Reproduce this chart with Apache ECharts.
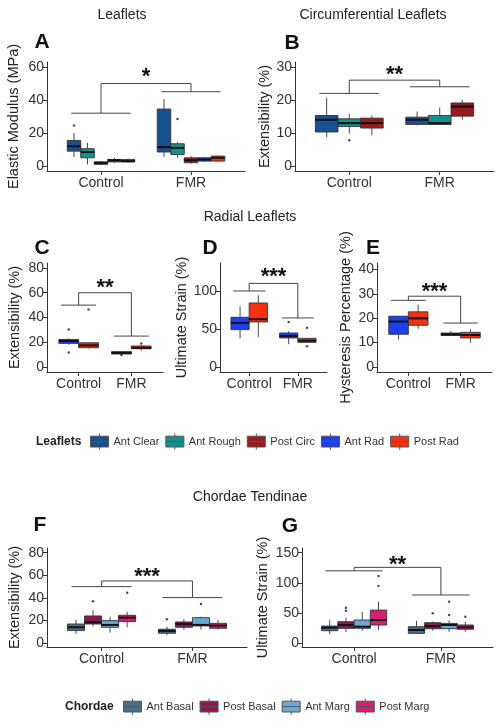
<!DOCTYPE html>
<html><head><meta charset="utf-8">
<script src="https://cdn.jsdelivr.net/npm/echarts@6/dist/echarts.min.js"></script>
<style>html,body{margin:0;padding:0;background:#fff}#c{width:503px;height:726px}</style>
</head><body><div id="c"></div>
<script>
// ---------- DATA ----------
const categories = ['Control', 'FMR'];
const leafletNames = ['Ant Clear', 'Ant Rough', 'Post Circ', 'Ant Rad', 'Post Rad'];
const chordaeNames = ['Ant Basal', 'Post Basal', 'Ant Marg', 'Post Marg'];

// box stats per category: [lower whisker, Q1, median, Q3, upper whisker]
// Panel A - Elastic Modulus (MPa)
const A_antClear = [[5.5, 9, 12, 15.5, 20], [5.5, 8.5, 11.5, 34.5, 40.5]];
const A_antRough = [[1, 5, 8.5, 10.5, 14], [5, 7, 11, 13.5, 14.5]];
const A_postCirc = [[0.5, 1, 2, 2.5, 3], [1.5, 2, 3.5, 5, 6]];
const A_antRad   = [[2, 2.5, 3.5, 4, 5], [2.5, 3, 4, 5, 5.5]];
const A_postRad  = [[2, 2.5, 3, 4, 4.5], [2.5, 3, 5, 6, 6.5]];
const A_outliers = [[0, 'Ant Clear', 24.5], [1, 'Ant Rough', 28.5]];
const A_ticks = [0, 20, 40, 60];
const A_bracket = [32, 45, 50, 57]; // control line, FMR line, top, star
// Panel B - Circumferential extensibility (%)
const B_antClear = [[8.8, 10.3, 14, 15.3, 20.7], [12.3, 12.6, 14, 14.8, 16.5]];
const B_antRough = [[9.8, 12, 13, 14.3, 15.8], [12.5, 12.6, 13, 15.3, 17.7]];
const B_postCirc = [[9.3, 11.5, 13, 14.5, 15.3], [14, 15.1, 18, 19.1, 20]];
const B_outliers = [[0, 'Ant Rough', 7.8]];
const B_ticks = [0, 10, 20, 30];
const B_bracket = [22, 24, 26, 29];
// Panel C - Radial extensibility (%)
const C_antRad  = [[18, 19.1, 21, 22.3, 23], [10.2, 10.5, 11.5, 12.4, 12.6]];
const C_postRad = [[15, 15.6, 17.5, 19.6, 20], [13, 14.8, 15.5, 17, 17.5]];
const C_outliers = [[0, 'Ant Rad', 30.4], [0, 'Ant Rad', 11.8], [0, 'Post Rad', 46.5], [1, 'Ant Rad', 9.7], [1, 'Post Rad', 19.1]];
const C_ticks = [0, 20, 40, 60, 80];
const C_bracket = [50, 25, 60, 68];
// Panel D - Ultimate Strain (%)
const D_antRad  = [[37.7, 49.1, 58, 65.4, 80], [30, 38.2, 40.8, 44.7, 47]];
const D_postRad = [[39.5, 59.2, 62.8, 84.2, 94.3], [32.4, 32.4, 34.6, 37.7, 38]];
const D_outliers = [[1, 'Ant Rad', 59.2], [1, 'Post Rad', 51.7], [1, 'Post Rad', 27.3]];
const D_ticks = [0, 50, 100];
const D_bracket = [100, 64.5, 110, 125];
// Panel E - Hysteresis Percentage (%)
const E_antRad  = [[11.2, 13.4, 18.6, 20.8, 20.8], [12.9, 12.9, 13.4, 13.9, 14.8]];
const E_postRad = [[15.7, 17.1, 19.9, 22.6, 25.6], [9.9, 11.9, 13.1, 14.2, 15.5]];
const E_outliers = [];
const E_ticks = [0, 10, 20, 30, 40];
const E_bracket = [27.3, 18, 29, 32.6];
// Panel F - Chordae extensibility (%)
const F_antBasal  = [[8.2, 11.2, 14.1, 17, 20.6], [7, 8.8, 10.9, 12.4, 14.7]];
const F_postBasal = [[14.7, 17, 18.5, 24.1, 29.4], [12, 14.1, 17, 18.8, 21.2]];
const F_antMarg   = [[9.4, 14.1, 16.2, 20, 23.5], [12, 15.3, 16.2, 22.6, 23.5]];
const F_postMarg  = [[14, 19.1, 22.6, 24.7, 27.9], [12, 13.2, 15.6, 17.6, 20.6]];
const F_outliers = [[0, 'Post Basal', 37], [0, 'Post Marg', 44.7], [1, 'Ant Basal', 21.2], [1, 'Ant Marg', 34.7]];
const F_ticks = [0, 20, 40, 60, 80];
const F_bracket = [50, 40.3, 55, 63];
// Panel G - Chordae ultimate strain (%)
const G_antBasal  = [[15.4, 20.9, 25.9, 28.6, 38.6], [15.4, 16.5, 22, 27.5, 37.4]];
const G_postBasal = [[19, 24.8, 30.3, 35.8, 42.4], [21, 24.2, 28.6, 34.1, 36]];
const G_antMarg   = [[20.9, 24.8, 27.5, 38.6, 52.3], [19, 24.2, 30.3, 33, 38]];
const G_postMarg  = [[22, 30.3, 38.6, 55, 68.9], [19, 23.2, 26.5, 30.3, 35.8]];
const G_outliers = [[0, 'Post Basal', 59], [0, 'Post Basal', 54], [0, 'Post Marg', 95], [0, 'Post Marg', 111.5], [1, 'Post Basal', 49.7], [1, 'Ant Marg', 69], [1, 'Ant Marg', 46.8], [1, 'Post Marg', 44]];
const G_ticks = [0, 50, 100, 150];
const G_bracket = [120, 80, 125.8, 138];

// ---------- STYLE / LAYOUT ----------
const FONT = "'Liberation Sans', Arial, Helvetica, sans-serif";
const colors = {
  'Ant Clear': '#17508f', 'Ant Rough': '#16908e', 'Post Circ': '#9a1b1f',
  'Ant Rad': '#1c3ff0', 'Post Rad': '#f5300f',
  'Ant Basal': '#466f8e', 'Post Basal': '#8e1651', 'Ant Marg': '#6aa9d5', 'Post Marg': '#d81d72'
};
const panels = [
  {key: 'A', groups: {'Ant Clear': A_antClear, 'Ant Rough': A_antRough, 'Post Circ': A_postCirc, 'Ant Rad': A_antRad, 'Post Rad': A_postRad}, out: A_outliers, ticks: A_ticks, br: A_bracket, sig: '*',
   grid: [47, 62, 198, 109], y: [-3, 63], yName: 'Elastic Modulus (MPa)', yGap: 26, letter: [42, 42]},
  {key: 'B', groups: {'Ant Clear': B_antClear, 'Ant Rough': B_antRough, 'Post Circ': B_postCirc}, out: B_outliers, ticks: B_ticks, br: B_bracket, sig: '**',
   grid: [295, 62, 199, 109], y: [-1.5, 31.5], yName: 'Extensibility (%)', yGap: 23, letter: [292, 43]},
  {key: 'C', groups: {'Ant Rad': C_antRad, 'Post Rad': C_postRad}, out: C_outliers, ticks: C_ticks, br: C_bracket, sig: '**',
   grid: [47, 263, 116, 109], y: [-4, 84], yName: 'Extensibility (%)', yGap: 25, letter: [42, 248]},
  {key: 'D', groups: {'Ant Rad': D_antRad, 'Post Rad': D_postRad}, out: D_outliers, ticks: D_ticks, br: D_bracket, sig: '***',
   grid: [220, 263, 107, 109], y: [-6.6, 136.8], yName: 'Ultimate Strain (%)', yGap: 30, letter: [210, 248]},
  {key: 'E', groups: {'Ant Rad': E_antRad, 'Post Rad': E_postRad}, out: E_outliers, ticks: E_ticks, br: E_bracket, sig: '***',
   grid: [377, 263, 115, 109], y: [-2.05, 42.6], yName: 'Hysteresis Percentage (%)', yGap: 24, letter: [373, 248]},
  {key: 'F', groups: {'Ant Basal': F_antBasal, 'Post Basal': F_postBasal, 'Ant Marg': F_antMarg, 'Post Marg': F_postMarg}, out: F_outliers, ticks: F_ticks, br: F_bracket, sig: '***',
   grid: [47, 548, 200, 99], y: [-3.3, 84.1], yName: 'Extensibility (%)', yGap: 25, letter: [40, 525]},
  {key: 'G', groups: {'Ant Basal': G_antBasal, 'Post Basal': G_postBasal, 'Ant Marg': G_antMarg, 'Post Marg': G_postMarg}, out: G_outliers, ticks: G_ticks, br: G_bracket, sig: '**',
   grid: [302, 548, 191, 99], y: [-6.1, 157.8], yName: 'Ultimate Strain (%)', yGap: 32, letter: [290, 526]}
];
const DODGE = 0.75, ARM = 0.33;
const AX = '#333';

const grids = [], xAxes = [], yAxes = [], series = [], graphics = [];
panels.forEach((p, i) => {
  grids.push({left: p.grid[0], top: p.grid[1], width: p.grid[2], height: p.grid[3]});
  xAxes.push({gridIndex: i, type: 'value', min: 0.4, max: 2.6, position: 'bottom',
    axisLine: {show: true, onZero: false, lineStyle: {color: AX, width: 1}},
    axisTick: {show: true, customValues: [1, 2], length: 4, lineStyle: {color: AX}},
    axisLabel: {customValues: [1, 2], formatter: v => categories[Math.round(v) - 1], fontSize: 14, color: '#333', fontFamily: FONT, margin: 5},
    splitLine: {show: false}});
  yAxes.push({gridIndex: i, type: 'value', min: p.y[0], max: p.y[1], position: 'left',
    axisLine: {show: true, onZero: false, lineStyle: {color: AX, width: 1}},
    axisTick: {show: true, customValues: p.ticks, length: 4, lineStyle: {color: AX}},
    axisLabel: {customValues: p.ticks, fontSize: 14, color: '#333', fontFamily: FONT, margin: 3},
    splitLine: {show: false},
    name: p.yName, nameLocation: 'middle', nameRotate: 90, nameGap: p.yGap,
    nameTextStyle: {fontSize: 14.5, color: '#222', fontFamily: FONT}});
  const names = Object.keys(p.groups);
  const n = names.length, bw = DODGE / n;
  const offsetOf = nm => (names.indexOf(nm) - (n - 1) / 2) * bw;
  names.forEach(nm => {
    const off = offsetOf(nm), col = colors[nm];
    series.push({type: 'custom', name: nm, xAxisIndex: i, yAxisIndex: i,
      itemStyle: {color: col},
      encode: {x: 0, y: [1, 2, 3, 4, 5]},
      data: p.groups[nm].map((s, ci) => [ci + 1].concat(s)),
      renderItem: (params, api) => {
        const x = api.value(0) + off;
        const c = v => api.coord([x, api.value(v)]);
        const lo = c(1), q1 = c(2), md = c(3), q3 = c(4), hi = c(5);
        const w = api.size([bw, 0])[0];
        const l = lo[0] - w / 2;
        const ls = {stroke: '#333', lineWidth: 0.9};
        return {type: 'group', children: [
          {type: 'line', shape: {x1: lo[0], y1: lo[1], x2: q1[0], y2: q1[1]}, style: ls},
          {type: 'line', shape: {x1: q3[0], y1: q3[1], x2: hi[0], y2: hi[1]}, style: ls},
          {type: 'rect', shape: {x: l, y: q3[1], width: w, height: Math.max(q1[1] - q3[1], 0.5)}, style: {fill: col, stroke: '#333', lineWidth: 0.9}},
          {type: 'line', shape: {x1: l, y1: md[1], x2: l + w, y2: md[1]}, style: {stroke: '#111', lineWidth: 2}}
        ]};
      }});
  });
  if (p.out.length) {
    series.push({type: 'scatter', xAxisIndex: i, yAxisIndex: i, silent: true, symbolSize: 2.5,
      itemStyle: {color: '#222'},
      data: p.out.map(o => [o[0] + 1 + offsetOf(o[1]), o[2]])});
  }
  const br = p.br;
  series.push({type: 'custom', xAxisIndex: i, yAxisIndex: i, silent: true,
    encode: {x: 0, y: 1},
    data: [[1.5, br[2]]],
    renderItem: (params, api) => {
      const P = (x, y) => api.coord([x, y]);
      const ls = {stroke: '#444', lineWidth: 1};
      const seg = (a, b) => ({type: 'line', shape: {x1: a[0], y1: a[1], x2: b[0], y2: b[1]}, style: ls});
      const s = P(1.5, br[3]);
      return {type: 'group', children: [
        seg(P(1 - ARM, br[0]), P(1 + ARM, br[0])),
        seg(P(1, br[0]), P(1, br[2])),
        seg(P(1, br[2]), P(2, br[2])),
        seg(P(2, br[2]), P(2, br[1])),
        seg(P(2 - ARM, br[1]), P(2 + ARM, br[1])),
        {type: 'text', x: s[0], y: s[1] + 5, style: {text: p.sig, align: 'center', verticalAlign: 'middle', textAlign: 'center', textVerticalAlign: 'middle', font: 'bold 22px ' + FONT, fill: '#111'}}
      ]};
    }});
  graphics.push({type: 'text', x: p.letter[0], y: p.letter[1], style: {text: p.key, align: 'center', verticalAlign: 'middle', textAlign: 'center', textVerticalAlign: 'middle', font: 'bold 21px ' + FONT, fill: '#111'}});
});

const titles = [['Leaflets', 122, 15], ['Circumferential Leaflets', 373, 15], ['Radial Leaflets', 250, 217], ['Chordae Tendinae', 250, 497]];
titles.forEach(t => graphics.push({type: 'text', x: t[1], y: t[2], style: {text: t[0], align: 'center', verticalAlign: 'middle', textAlign: 'center', textVerticalAlign: 'middle', font: '14px ' + FONT, fill: '#222'}}));
graphics.push({type: 'text', x: 36, y: 441.5, style: {text: 'Leaflets', align: 'left', verticalAlign: 'middle', textAlign: 'left', textVerticalAlign: 'middle', font: 'bold 12px ' + FONT, fill: '#222'}});
graphics.push({type: 'text', x: 65, y: 706.5, style: {text: 'Chordae', align: 'left', verticalAlign: 'middle', textAlign: 'left', textVerticalAlign: 'middle', font: 'bold 12px ' + FONT, fill: '#222'}});

const ICON = 'path://M10,0L10,3M0,3L20,3L20,15L0,15ZM0,9L20,9M10,15L10,18';
const legendBase = {orient: 'horizontal', padding: 0, itemWidth: 18, itemHeight: 17, itemGap: 6, selectedMode: false,
  textStyle: {fontSize: 11, color: '#333', fontFamily: FONT},
  itemStyle: {borderColor: '#555', borderWidth: 1}};

const chart = echarts.init(document.getElementById('c'), null, {renderer: 'canvas'});
chart.setOption({
  animation: false,
  backgroundColor: '#fff',
  grid: grids, xAxis: xAxes, yAxis: yAxes, series: series,
  legend: [
    Object.assign({}, legendBase, {left: 90, top: 433, data: leafletNames.map(n => ({name: n, icon: ICON}))}),
    Object.assign({}, legendBase, {left: 123, top: 698, data: chordaeNames.map(n => ({name: n, icon: ICON}))})
  ],
  graphic: graphics
});
</script></body></html>
